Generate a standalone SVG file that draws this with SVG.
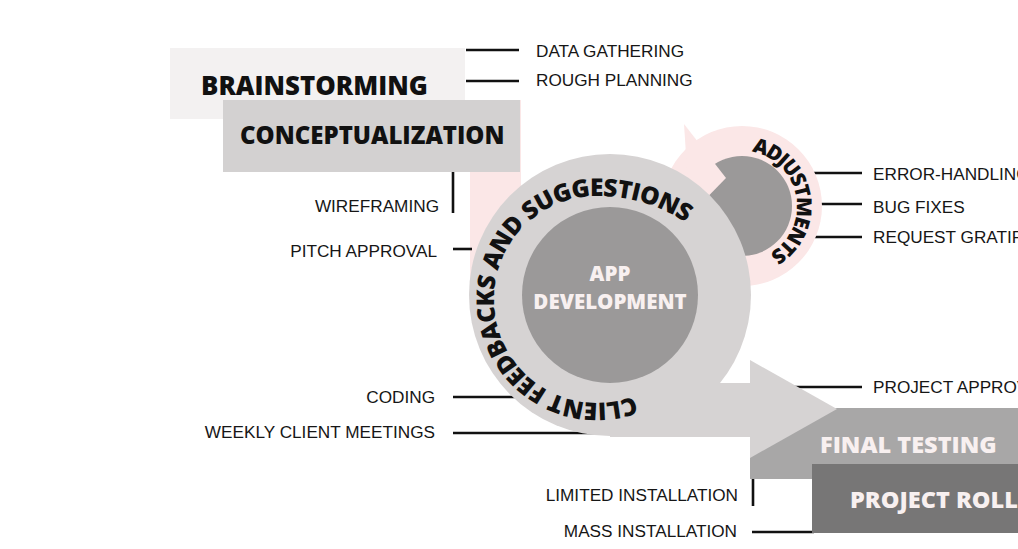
<svg xmlns="http://www.w3.org/2000/svg" width="1018" height="549" viewBox="0 0 1018 549">
  <defs>
    <style>
      .label { font-family: "Liberation Sans", Arial, sans-serif; font-size: 17.2px; fill: #161616; }
      .end { text-anchor: end; }
      .head { font-family: "Open Sans", "DejaVu Sans", sans-serif; font-weight: 800; }
      .dark { fill: #111111; }
      .light { fill: #f8f0f0; }
      .tick { stroke: #111111; stroke-width: 2.6; fill: none; }
      .ring { fill: #d6d3d3; }
      .core { fill: #9b9999; }
      .pink { fill: #fbe7e7; }
    </style>
    <!-- baseline for the curved ring caption: clockwise, opening out slightly at the end -->
    <path id="ringPath" d="M634,396 A103,103 0 0 1 494,299 A103,103 0 0 1 597,196 A160,160 0 0 1 688,224"/>
    <!-- baseline for the small loop caption -->
    <path id="loopPath" d="M751.5,151.8 A55,55 0 0 1 773.5,251"/>
  </defs>

  <!-- stage boxes, upper left -->
  <g id="brainstorming">
    <rect x="170" y="48" width="295" height="71" fill="#f3f1f1"/>
    <text class="head dark" x="201" y="95" font-size="25.8">BRAINSTORMING</text>
  </g>

  <g id="pink-stem">
    <rect class="pink" x="470" y="100" width="51" height="195"/>
  </g>

  <g id="conceptualization">
    <rect x="223" y="100" width="297" height="72" fill="#d3d1d1"/>
    <text class="head dark" x="240" y="144" font-size="24">CONCEPTUALIZATION</text>
  </g>

  <!-- callout ticks -->
  <g id="connectors">
    <line class="tick" x1="466" y1="50" x2="519" y2="50"/>
    <line class="tick" x1="466" y1="81" x2="519" y2="81"/>
    <line class="tick" x1="453" y1="172" x2="453" y2="213"/>
    <line class="tick" x1="453" y1="249" x2="472" y2="249"/>
    <line class="tick" x1="453" y1="397" x2="530" y2="397"/>
    <line class="tick" x1="453" y1="433" x2="600" y2="433"/>
    <line class="tick" x1="800" y1="173" x2="862" y2="173"/>
    <line class="tick" x1="800" y1="204" x2="862" y2="204"/>
    <line class="tick" x1="800" y1="237" x2="862" y2="237"/>
    <line class="tick" x1="780" y1="387" x2="862" y2="387"/>
    <line class="tick" x1="753" y1="479" x2="753" y2="506"/>
    <line class="tick" x1="752" y1="532" x2="814" y2="532"/>
  </g>

  <!-- adjustments loop -->
  <g id="adjustments">
    <circle class="pink" cx="742" cy="206" r="80"/>
    <circle class="core" cx="742" cy="206" r="50"/>
    <polygon class="pink" points="684,124 726,178 690,215"/>
    <text class="head dark" font-size="20.5">
      <textPath href="#loopPath" textLength="134" lengthAdjust="spacing">ADJUSTMENTS</textPath>
    </text>
  </g>

  <g id="final-testing">
    <rect x="750" y="408" width="268" height="71" fill="#a8a7a7"/>
  </g>

  <!-- main development cycle with exit arrow -->
  <g id="app-development">
    <circle class="ring" cx="610" cy="295" r="141"/>
    <rect class="ring" x="610" y="383" width="142" height="54"/>
    <polygon class="ring" points="750,360 837,409 750,458"/>
    <circle class="core" cx="610" cy="295" r="88"/>
    <text class="head light" x="610" y="281" font-size="20.5" text-anchor="middle">APP</text>
    <text class="head light" x="610" y="309" font-size="20.5" text-anchor="middle">DEVELOPMENT</text>
    <text class="head dark" font-size="24.5">
      <textPath href="#ringPath" textLength="456" lengthAdjust="spacing">CLIENT FEEDBACKS AND SUGGESTIONS</textPath>
    </text>
  </g>

  <g id="final-testing-label">
    <text class="head light" x="820" y="453" font-size="23.5">FINAL TESTING</text>
  </g>

  <g id="project-rollout">
    <rect x="812" y="464" width="206" height="69" fill="#777676"/>
    <text class="head light" x="850" y="508" font-size="23.5">PROJECT ROLL</text>
  </g>

  <!-- task labels -->
  <g id="labels">
    <text class="label" x="536" y="57">DATA GATHERING</text>
    <text class="label" x="536" y="86">ROUGH PLANNING</text>
    <text class="label end" x="439" y="212">WIREFRAMING</text>
    <text class="label end" x="437" y="257">PITCH APPROVAL</text>
    <text class="label end" x="435" y="403">CODING</text>
    <text class="label end" x="435" y="438">WEEKLY CLIENT MEETINGS</text>
    <text class="label" x="873" y="180">ERROR-HANDLING</text>
    <text class="label" x="873" y="213">BUG FIXES</text>
    <text class="label" x="873" y="243">REQUEST GRATIFI</text>
    <text class="label" x="873" y="393">PROJECT APPROV</text>
    <text class="label end" x="738" y="501">LIMITED INSTALLATION</text>
    <text class="label end" x="737" y="537">MASS INSTALLATION</text>
  </g>
</svg>
